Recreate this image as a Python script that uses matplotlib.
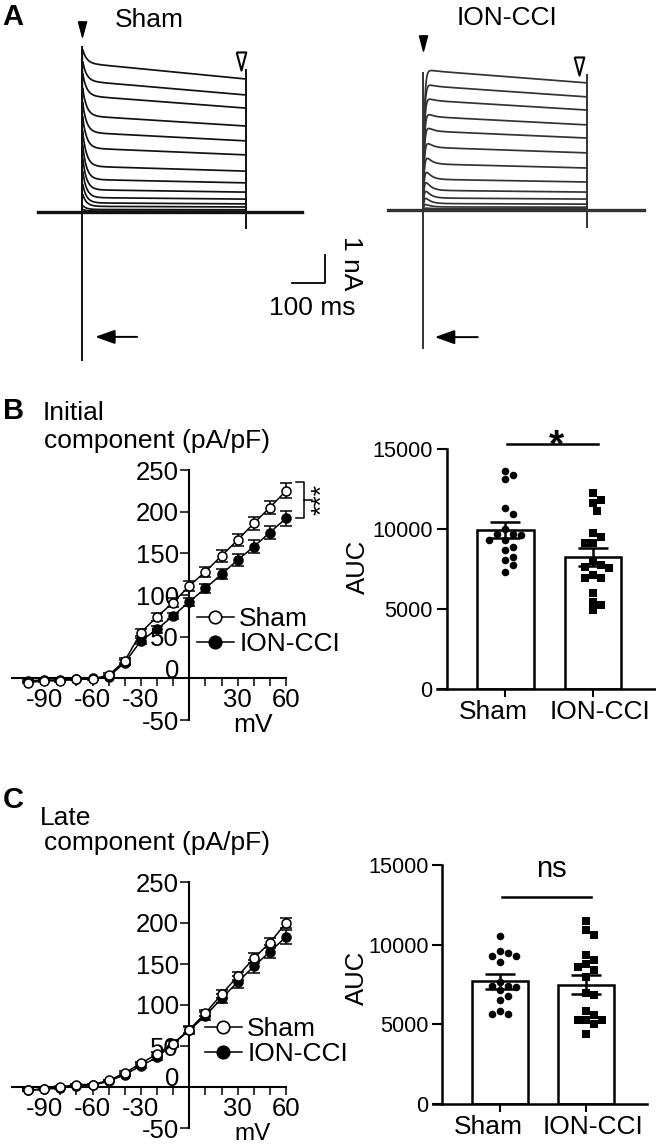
import numpy as np
import matplotlib
matplotlib.use('Agg')
import matplotlib.pyplot as plt
from matplotlib.lines import Line2D
from matplotlib.transforms import ScaledTranslation

plt.rcParams['font.family'] = ['Liberation Sans', 'DejaVu Sans']

W, H = 656, 1145

# ---- A: example current traces (nA): first value of the step and value at its end
sham_trace_init = [5.9, 5.5, 5.1, 4.6, 4.1, 3.6, 3.1, 2.6, 2.1, 1.6, 1.1, 0.7, 0.25, 0.1]
sham_trace_end = [4.75, 4.18, 3.71, 3.07, 2.54, 2.04, 1.46, 1.04, 0.71, 0.46, 0.29, 0.18, 0.08, 0.03]
ion_trace_init = [5.1, 4.65, 4.2, 3.7, 3.25, 2.75, 2.3, 1.8, 1.4, 1.0, 0.65, 0.3, 0.1]
ion_trace_end = [4.54, 4.04, 3.57, 3.04, 2.57, 2.04, 1.5, 1.0, 0.64, 0.39, 0.21, 0.1, 0.04]
sham_cap = [-5.3, 5.9]      # on/off capacitive transients
sham_off = [-0.57, 5.07]
ion_cap = [-4.93, 4.9]
ion_off = [-0.6, 4.82]
step_ms = 500

# ---- B / C: I-V curves (pA/pF)
volt = [-100, -90, -80, -70, -60, -50, -40, -30, -20, -10, 0, 10, 20, 30, 40, 50, 60]
init_sham = [-5, -3, -3, -1, -1, 4, 21, 55, 74, 91, 111, 128, 147, 166, 186, 205, 225]
init_sham_sem = [1, 1, 1, 1, 1, 2, 3, 4, 5, 5, 6, 6, 7, 7, 8, 8, 9]
init_ion = [-3, -2, -2, -1, 0, 2, 19, 45, 59, 75, 92, 108, 125, 142, 158, 175, 192]
init_ion_sem = [1, 1, 1, 1, 1, 2, 3, 4, 4, 4, 5, 5, 6, 7, 8, 8, 9]
late_sham = [-4, -2, 0, 3, 3, 8, 17, 29, 40, 53, 70, 90, 113, 135, 157, 176, 200]
late_sham_sem = [1, 1, 1, 1, 1, 1, 2, 2, 3, 3, 4, 4, 5, 5, 6, 6, 6]
late_ion = [-4, -3, -1, 1, 2, 7, 15, 26, 36, 53, 69, 87, 108, 128, 147, 165, 183]
late_ion_sem = [1, 1, 1, 1, 1, 1, 2, 3, 3, 4, 4, 5, 6, 7, 8, 8, 9]

# ---- AUC per cell
groups = ['Sham', 'ION-CCI']
auc_init_sham = [13625, 13375, 13104, 11333, 10937, 9979, 9687, 9687, 9625, 9312, 9312,
                 8896, 8687, 8270, 8062, 7750, 7333]
auc_init_ion = [12229, 11812, 11604, 11146, 9771, 9479, 9146, 9104, 8000, 7750, 7646,
                7542, 7125, 6917, 6917, 6021, 5417, 5271, 4917]
auc_init_mean = [9930, 8250]
auc_init_sem = [520, 580]
auc_late_sham = [10562, 9625, 9458, 9312, 9312, 8896, 7646, 7437, 7437, 7333, 7125,
                 6750, 6541, 5833, 5667, 5625]
auc_late_ion = [11500, 10917, 10625, 9375, 9042, 8792, 8583, 8417, 7958, 6958, 6812,
                5833, 5562, 5292, 5250, 5250, 5042, 4417]
auc_late_mean = [7700, 7480]
auc_late_sem = [480, 600]

fig = plt.figure(figsize=(W / 100, H / 100), dpi=100)


def px_rect(x0, y0, x1, y1):
    return [x0 / W, 1 - y1 / H, (x1 - x0) / W, (y1 - y0) / H]


def ftext(x, y, s, **kw):
    kw.setdefault('fontsize', 19)
    fig.text(x / W, 1 - y / H, s, **kw)


# ================= A =================
t = np.linspace(0, step_ms, 1001)


def trace_panel(x0, x1, step_px, base_px, inits, ends, cap, off, hold,
                slow, tau, rise, color):
    ppms, ppna = 0.328, 28.0
    ax = fig.add_axes(px_rect(x0, 0, x1, 380))
    ax.set_xlim((x0 - step_px) / ppms, (x1 - step_px) / ppms)
    ax.set_ylim((base_px - 380) / ppna, base_px / ppna)
    ax.axis('off')
    for i0, i1 in zip(inits, ends):
        plateau = i1 * (1 + slow * (1 - t / step_ms))
        cur = (plateau + (i0 - plateau[0]) * np.exp(-t / tau)) * (1 - np.exp(-t / rise))
        ax.plot(t, cur, color=color, lw=1.25)
    ax.plot([0, 0], cap, color=color, lw=1.4)
    ax.plot([step_ms, step_ms], off, color=color, lw=1.4)
    ax.plot(hold, [0, 0], color=color, lw=2.4)
    return ax


tri = [(-4, 7.5), (4, 7.5), (0, -7.5), (-4, 7.5)]

axs = trace_panel(20, 370, 82, 212, sham_trace_init, sham_trace_end, sham_cap, sham_off,
                  [-134, 671], 0.12, 12, 0.3, '#111111')
axs.plot(0, max(sham_trace_init) + 0.65, marker=tri, ms=11, color='k', clip_on=False)
axs.plot(step_ms - 15, sham_trace_end[0] + 0.65, marker=tri, ms=13, mfc='white', mec='k', mew=1.5)
axs.annotate('', xy=(40, -4.46), xytext=(168, -4.46),
             arrowprops=dict(arrowstyle='-|>,head_length=1.2,head_width=0.43',
                             color='k', lw=1.4, shrinkA=0, shrinkB=0))
axs.plot([641, 741, 741], [-2.54, -2.54, -1.54], color='k', lw=1.3)

axi = trace_panel(370, 656, 423, 210, ion_trace_init, ion_trace_end, ion_cap, ion_off,
                  [-106, 673], 0.10, 15, 4, '#333333')
axi.plot(0, ion_trace_init[0] + 0.87, marker=tri, ms=11, color='k', clip_on=False)
axi.plot(step_ms - 24, ion_trace_end[0] + 0.6, marker=tri, ms=13, mfc='white', mec='k', mew=1.5)
axi.annotate('', xy=(36, -4.54), xytext=(167, -4.54),
             arrowprops=dict(arrowstyle='-|>,head_length=1.2,head_width=0.43',
                             color='k', lw=1.4, shrinkA=0, shrinkB=0))

ftext(2, 25, 'A', fontsize=21, fontweight='bold', va='baseline')
ftext(149, 27, 'Sham', ha='center', va='baseline')
ftext(507, 25, 'ION-CCI', ha='center', va='baseline')
ftext(351, 263, '1 nA', rotation=270, ha='center', va='center')
ftext(312, 315, '100 ms', ha='center', va='baseline')


# ================= I-V panels =================
def draw_iv(rect, sham, sham_sem, ion, ion_sem, leg_xy):
    ax = fig.add_axes(px_rect(*rect))
    ax.set_xlim(-110, 60)
    ax.set_ylim(-50, 250)
    for side in ['top', 'right']:
        ax.spines[side].set_visible(False)
    ax.spines['left'].set_position(('data', 0))
    ax.spines['bottom'].set_position(('data', 0))
    for side in ['left', 'bottom']:
        ax.spines[side].set_linewidth(1.5)
    ebkw = dict(color='k', lw=1.1, marker='o', ms=6.5, mec='k', mew=1.1,
                capsize=4.3, capthick=1.1, elinewidth=1.1, clip_on=False)
    ax.errorbar(volt, ion, yerr=ion_sem, mfc='k', zorder=3, **ebkw)
    ax.errorbar(volt, sham, yerr=sham_sem, mfc='white', zorder=4, **ebkw)
    ax.set_xticks([-90, -60, -30, 30, 60])
    ax.set_xticklabels(['-90', '-60', '-30', '30', '60'])
    ax.set_xticks([v for v in volt if v not in (-90, -60, -30, 0, 30, 60)], minor=True)
    ax.set_yticks([-50, 0, 50, 100, 150, 200, 250])
    ax.set_yticklabels(['-50', '0', '50', '100', '150', '200', '250'])
    ax.tick_params(axis='both', which='both', direction='out', width=1.1, labelsize=18.5)
    ax.tick_params(axis='x', which='both', length=6, pad=1)
    ax.tick_params(axis='y', length=6.5, pad=1)
    for tk in ax.yaxis.get_major_ticks():
        if tk.label1.get_text() == '0':
            tk.label1.set_transform(tk.label1.get_transform() +
                                    ScaledTranslation(0, 0.1, fig.dpi_scale_trans))
    handles = [Line2D([], [], color='k', lw=1.1, marker='o', ms=9, mfc='white', mec='k', mew=1.2),
               Line2D([], [], color='k', lw=1.1, marker='o', ms=9, mfc='k', mec='k', mew=1.2)]
    ax.legend(handles, groups, loc='upper left', frameon=False, fontsize=19,
              bbox_to_anchor=(leg_xy[0] / W, 1 - leg_xy[1] / H), bbox_transform=fig.transFigure,
              handlelength=1.4, handletextpad=0.2, labelspacing=0.05, borderpad=0, borderaxespad=0)
    return ax


axb = draw_iv((12, 470, 286, 720), init_sham, init_sham_sem, init_ion, init_ion_sem, (197, 607))
# significance bracket at +60 mV
top = init_sham[-1] + init_sham_sem[-1] + 2
bot = init_ion[-1]
axb.plot([66, 71, 71, 66], [top, top, bot, bot], color='k', lw=1.1, clip_on=False)
axb.plot([71, 76], [(top + bot) / 2] * 2, color='k', lw=1.1, clip_on=False)
ftext(322, 499, '***', rotation=90, ha='center', va='center')
ftext(3, 419, 'B', fontsize=21, fontweight='bold', va='baseline')
ftext(43, 420, 'Initial', va='baseline')
ftext(44, 448, 'component (pA/pF)', va='baseline')
ftext(253, 732, 'mV', ha='center', va='baseline')

axc = draw_iv((12, 882, 286, 1128), late_sham, late_sham_sem, late_ion, late_ion_sem, (205, 1017))
ftext(3, 808, 'C', fontsize=21, fontweight='bold', va='baseline')
ftext(40, 825, 'Late', va='baseline')
ftext(44, 850, 'component (pA/pF)', va='baseline')
ftext(253, 1140, 'mV', ha='center', va='baseline', fontsize=17.5)


# ================= AUC bar panels =================
def swarm(vals, ux, uy, diam=8.0):
    placed = []
    out = []
    steps = [0, 0.5, -0.5, 1, -1, 1.5, -1.5, 2, -2, 2.5, -2.5, 3, -3]
    for v in vals:
        for s in steps:
            dx = s * diam
            if all((dx - px) ** 2 + ((v - pv) * uy) ** 2 >= diam ** 2 for px, pv in placed):
                break
        placed.append((dx, v))
        out.append(dx / ux)
    return np.array(out)


def draw_auc(rect, sham_pts, ion_pts, means, sems, sig, sig_y, lab_xy, sig_xy, sig_fs, sig_w):
    ax = fig.add_axes(px_rect(*rect))
    ax.set_xlim(-0.78, 1.71)
    ax.set_ylim(0, 15000)
    ux = (rect[2] - rect[0]) / 2.49
    uy = (rect[3] - rect[1]) / 15000
    ax.bar([0, 1], means, width=0.645, color='white', edgecolor='k', lw=1.8, zorder=1)
    ax.scatter(swarm(sham_pts, ux, uy), sham_pts, marker='o', s=30, color='k', lw=0, zorder=2)
    ax.scatter(1 + swarm(ion_pts, ux, uy), ion_pts, marker='s', s=26, color='k', lw=0, zorder=2)
    ax.errorbar([0, 1], means, yerr=sems, fmt='none', ecolor='k', elinewidth=1.8,
                capsize=10.8, capthick=1.8, zorder=3)
    for side in ['top', 'right']:
        ax.spines[side].set_visible(False)
    for side in ['left', 'bottom']:
        ax.spines[side].set_linewidth(1.8)
    ax.spines['left'].set_position(('data', -0.67))
    ax.set_yticks([0, 5000, 10000, 15000])
    ax.set_yticklabels(['0', '5000', '10000', '15000'])
    ax.set_xticks([0, 1])
    ax.set_xticklabels(groups)
    ax.tick_params(axis='y', direction='out', length=7, width=1.5, labelsize=15.7, pad=3)
    ax.tick_params(axis='x', direction='out', length=6, width=1.5, labelsize=19, pad=2)
    for tk, dx in zip(ax.xaxis.get_major_ticks(), [-12, 7]):
        tk.label1.set_transform(tk.label1.get_transform() +
                                ScaledTranslation(dx / 100, 0, fig.dpi_scale_trans))
    ax.plot([0.02, 1.06], [sig_y, sig_y], color='k', lw=1.8, clip_on=False)
    ftext(sig_xy[0], sig_xy[1], sig, fontsize=sig_fs, fontweight=sig_w, ha='center', va='baseline')
    ftext(lab_xy[0], lab_xy[1], 'AUC', rotation=90, ha='center', va='center', fontsize=18.5)
    return ax


draw_auc((437, 449, 655, 689), auc_init_sham, auc_init_ion, auc_init_mean, auc_init_sem,
         '*', 15300, (358, 567), (556, 456), 28, 'bold')
draw_auc((433, 865, 647, 1104), auc_late_sham, auc_late_ion, auc_late_mean, auc_late_sem,
         'ns', 13000, (357, 978), (551, 877), 21, 'normal')

fig.savefig('out.png', dpi=100)
